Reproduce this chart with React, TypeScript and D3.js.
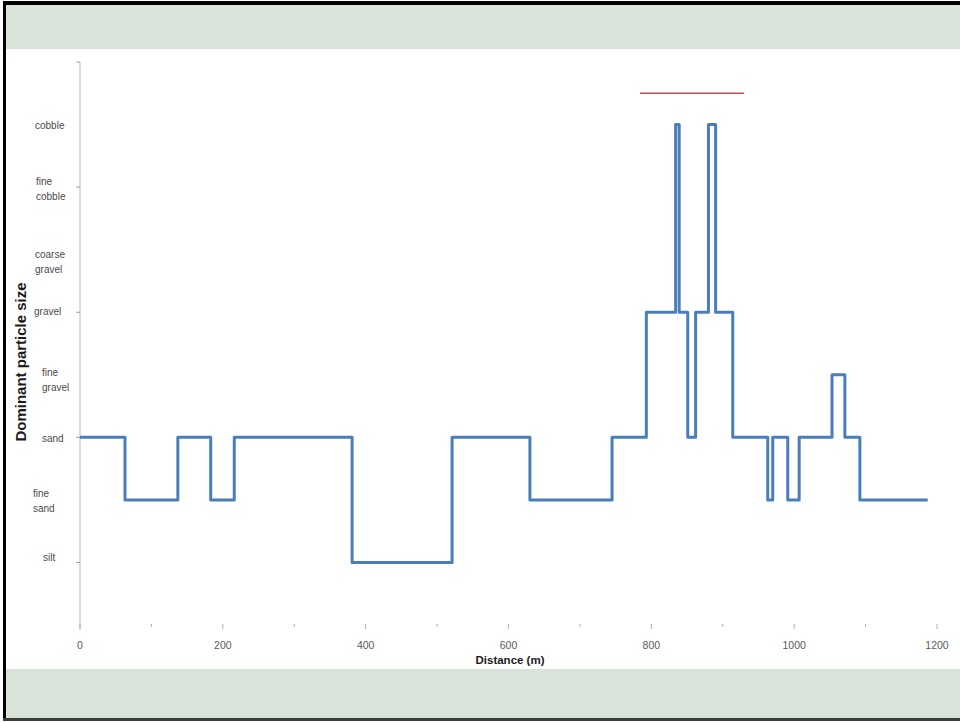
import React from "react";
import * as d3 from "d3";

// Sediment classes, finest to coarsest (index = numeric class on the y scale)
const classes = [
  "silt",
  "fine sand",
  "sand",
  "fine gravel",
  "gravel",
  "coarse gravel",
  "fine cobble",
  "cobble",
];

// Label text lines for each class as shown beside the axis
const classLabelLines: string[][] = [
  ["silt"],
  ["fine", "sand"],
  ["sand"],
  ["fine", "gravel"],
  ["gravel"],
  ["coarse", "gravel"],
  ["fine", "cobble"],
  ["cobble"],
];

// Survey transect: distance (m) where a new dominant class begins
const distances = [
  0, 63, 137, 183, 216, 381, 521, 630, 745, 793, 834, 839, 851, 862, 880, 890,
  914, 963, 970, 991, 1007, 1053, 1071, 1092, 1187,
];
const dominantClass = [
  "sand", "fine sand", "sand", "fine sand", "sand", "silt", "sand", "fine sand",
  "sand", "gravel", "cobble", "gravel", "sand", "gravel", "cobble", "gravel",
  "sand", "fine sand", "sand", "fine sand", "sand", "fine gravel", "sand",
  "fine sand", "fine sand",
];

// Highlighted reach
const reachStart = [784];
const reachEnd = [930];
const reachLevel = [7.5];

const xTicks = [0, 200, 400, 600, 800, 1000, 1200];
const xMinorTicks = [100, 300, 500, 700, 900, 1100];
const yTicks = [0, 2, 4, 6, 8];

// Hand-placed text boxes beside the axis: left edge and first-line offset
const labelLeft = [43, 33, 42, 42, 34, 35, 36, 35];
const labelShift = [-5, -6, 0.7, -2, -1, 5, -5.6, 1.4];

export default function App() {
  const W = 960;
  const H = 723;
  const x = d3.scaleLinear().domain([0, 1200]).range([80, 937]);
  const y = d3.scaleLinear().domain([-1, 8]).range([625, 62]);

  const pts = distances.map((d, i) => [d, classes.indexOf(dominantClass[i])] as [number, number]);
  const line = d3
    .line<[number, number]>()
    .x((p) => x(p[0]))
    .y((p) => y(p[1]))
    .curve(d3.curveStepAfter);

  const labelFont = "'Liberation Sans', Arial, sans-serif";

  return (
    <svg
      width={W}
      height={H}
      style={{ position: "absolute", left: 0, top: 0, background: "#ffffff" }}
    >
      {/* slide frame and bands */}
      <rect x={6} y={5} width={W - 6} height={44} fill="#d9e3da" />
      <rect x={6} y={669} width={W - 6} height={49} fill="#d9e3da" />
      <rect x={3} y={1} width={W - 3} height={4} fill="#000" />
      <rect x={3} y={1} width={3} height={719} fill="#000" />
      <rect x={3} y={718} width={W - 3} height={3} fill="#3a3f3a" />

      {/* y axis */}
      <line x1={80} x2={80} y1={62} y2={629} stroke="#d0d0d0" strokeWidth={1.5} />
      {yTicks.map((t) => (
        <line key={t} x1={76} x2={80} y1={y(t)} y2={y(t)} stroke="#a0a0a0" strokeWidth={1} />
      ))}
      {classLabelLines.map((lines, i) => (
        <text
          key={i}
          x={labelLeft[i]}
          y={y(i) + labelShift[i] + 3.5}
          fontFamily={labelFont}
          fontSize={10}
          fill="#4a4a4a"
        >
          {lines.map((l, j) => (
            <tspan key={j} x={labelLeft[i]} dy={j === 0 ? 0 : 14.5}>
              {l}
            </tspan>
          ))}
        </text>
      ))}
      <text
        transform={`translate(26,${362}) rotate(-90)`}
        textAnchor="middle"
        fontFamily={labelFont}
        fontSize={15}
        fontWeight="bold"
        fill="#1a1a1a"
      >
        Dominant particle size
      </text>

      {/* x axis ticks and labels */}
      {xTicks.map((t) => (
        <g key={t}>
          <line x1={x(t)} x2={x(t)} y1={624} y2={629} stroke="#b0b0b0" strokeWidth={1} />
          <text
            x={x(t)}
            y={649}
            textAnchor="middle"
            fontFamily={labelFont}
            fontSize={10.5}
            fill="#5a5a5a"
          >
            {t}
          </text>
        </g>
      ))}
      {xMinorTicks.map((t) => (
        <line key={t} x1={x(t)} x2={x(t)} y1={624} y2={627} stroke="#b0b0b0" strokeWidth={1} />
      ))}
      <text
        x={510}
        y={664}
        textAnchor="middle"
        fontFamily={labelFont}
        fontSize={11.5}
        fontWeight="bold"
        fill="#1a1a1a"
      >
        Distance (m)
      </text>

      {/* dominant particle size profile */}
      <path d={line(pts) ?? ""} fill="none" stroke="#4a7ebb" strokeWidth={3} strokeLinejoin="round" />

      {/* highlighted reach */}
      {reachStart.map((s, i) => (
        <line
          key={i}
          x1={x(s)}
          x2={x(reachEnd[i])}
          y1={y(reachLevel[i])}
          y2={y(reachLevel[i])}
          stroke="#c0504d"
          strokeWidth={1.5}
        />
      ))}
    </svg>
  );
}
